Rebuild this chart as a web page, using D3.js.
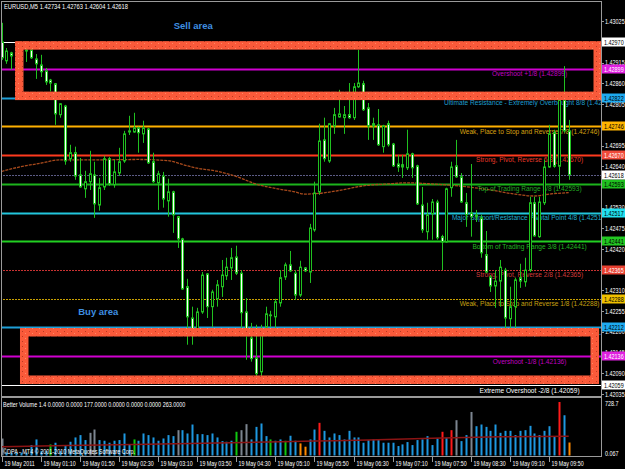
<!DOCTYPE html>
<html>
<head>
<meta charset="utf-8">
<script src="https://cdnjs.cloudflare.com/ajax/libs/d3/7.8.5/d3.min.js"></script>
<style>
  body { margin: 0; background: #000; }
  svg { display: block; }
  .ax { font-family: 'Liberation Sans', Arial, sans-serif; font-size: 6.8px; fill: #fff; }
  .mm { font-family: 'Liberation Sans', Arial, sans-serif; font-size: 6.6px; }
  .area { font-family: 'Liberation Sans', Arial, sans-serif; font-size: 9.5px; font-weight: bold; fill: #3f8fe0; }
</style>
</head>
<body>
<div id="chart"></div>
<script>
// EURUSD M5, 19 May 2011, bars 00:30 .. 10:10
var open = [1.42970, 1.42920, 1.42941, 1.42933, 1.42944, 1.42949, 1.42949, 1.42925, 1.42909, 1.42893,
    1.42869, 1.42859, 1.42777, 1.42800, 1.42660, 1.42676, 1.42617, 1.42580, 1.42599, 1.42617,
    1.42537, 1.42585, 1.42660, 1.42591, 1.42622, 1.42654, 1.42731, 1.42731, 1.42742, 1.42726,
    1.42739, 1.42652, 1.42596, 1.42614, 1.42548, 1.42572, 1.42506, 1.42447, 1.42320, 1.42237,
    1.42205, 1.42253, 1.42354, 1.42267, 1.42288, 1.42320, 1.42349, 1.42370, 1.42399, 1.42356,
    1.42253, 1.42184, 1.42131, 1.42094, 1.42213, 1.42245, 1.42240, 1.42277, 1.42346, 1.42378,
    1.42356, 1.42298, 1.42370, 1.42359, 1.42471, 1.42572, 1.42710, 1.42654, 1.42747, 1.42771,
    1.42769, 1.42777, 1.42769, 1.42851, 1.42859, 1.42795, 1.42753, 1.42750, 1.42692, 1.42753,
    1.42699, 1.42646, 1.42644, 1.42636, 1.42673, 1.42641, 1.42537, 1.42466, 1.42514, 1.42545,
    1.42453, 1.42439, 1.42583, 1.42641, 1.42612, 1.42543, 1.42516, 1.42506, 1.42503, 1.42405,
    1.42346, 1.42322, 1.42335, 1.42364, 1.42235, 1.42267, 1.42344, 1.42333, 1.42364, 1.42543,
    1.42453, 1.42543, 1.42638, 1.42729, 1.42640, 1.42816, 1.42734];
var high = [1.43021, 1.42954, 1.42944, 1.42949, 1.42954, 1.42951, 1.42951, 1.42938, 1.42936, 1.42901,
    1.42872, 1.42861, 1.42808, 1.42803, 1.42697, 1.42692, 1.42662, 1.42628, 1.42681, 1.42652,
    1.42609, 1.42668, 1.42665, 1.42657, 1.42689, 1.42734, 1.42774, 1.42782, 1.42745, 1.42761,
    1.42742, 1.42676, 1.42628, 1.42625, 1.42607, 1.42575, 1.42508, 1.42450, 1.42341, 1.42267,
    1.42264, 1.42359, 1.42356, 1.42312, 1.42338, 1.42391, 1.42397, 1.42423, 1.42429, 1.42364,
    1.42290, 1.42224, 1.42219, 1.42219, 1.42267, 1.42256, 1.42288, 1.42364, 1.42384, 1.42415,
    1.42364, 1.42389, 1.42372, 1.42487, 1.42599, 1.42753, 1.42769, 1.42755, 1.42795, 1.42843,
    1.42800, 1.42861, 1.42861, 1.42949, 1.42867, 1.42808, 1.42769, 1.42792, 1.42750, 1.42761,
    1.42702, 1.42670, 1.42670, 1.42737, 1.42676, 1.42644, 1.42585, 1.42543, 1.42553, 1.42551,
    1.42458, 1.42583, 1.42652, 1.42710, 1.42622, 1.42569, 1.42646, 1.42524, 1.42511, 1.42468,
    1.42351, 1.42364, 1.42391, 1.42370, 1.42320, 1.42344, 1.42381, 1.42397, 1.42559, 1.42559,
    1.42559, 1.42657, 1.42750, 1.42737, 1.42829, 1.42906, 1.42763];
var low = [1.42922, 1.42912, 1.42896, 1.42922, 1.42933, 1.42917, 1.42925, 1.42872, 1.42877, 1.42856,
    1.42838, 1.42750, 1.42769, 1.42644, 1.42652, 1.42604, 1.42583, 1.42556, 1.42577, 1.42503,
    1.42522, 1.42577, 1.42588, 1.42583, 1.42614, 1.42649, 1.42723, 1.42729, 1.42676, 1.42702,
    1.42646, 1.42596, 1.42524, 1.42530, 1.42506, 1.42463, 1.42423, 1.42312, 1.42166, 1.42166,
    1.42192, 1.42248, 1.42237, 1.42213, 1.42267, 1.42293, 1.42338, 1.42338, 1.42351, 1.42211,
    1.42126, 1.42121, 1.42078, 1.42083, 1.42200, 1.42213, 1.42211, 1.42267, 1.42338, 1.42359,
    1.42285, 1.42293, 1.42359, 1.42330, 1.42466, 1.42564, 1.42652, 1.42649, 1.42726, 1.42769,
    1.42726, 1.42766, 1.42763, 1.42848, 1.42787, 1.42710, 1.42710, 1.42694, 1.42676, 1.42692,
    1.42638, 1.42625, 1.42609, 1.42630, 1.42609, 1.42537, 1.42463, 1.42445, 1.42445, 1.42445,
    1.42364, 1.42437, 1.42559, 1.42609, 1.42543, 1.42479, 1.42453, 1.42492, 1.42397, 1.42356,
    1.42306, 1.42264, 1.42267, 1.42205, 1.42211, 1.42211, 1.42317, 1.42320, 1.42359, 1.42453,
    1.42450, 1.42537, 1.42636, 1.42636, 1.42580, 1.42729, 1.42604];
var close = [1.42928, 1.42946, 1.42933, 1.42944, 1.42949, 1.42946, 1.42928, 1.42912, 1.42891, 1.42864,
    1.42861, 1.42779, 1.42806, 1.42654, 1.42676, 1.42614, 1.42585, 1.42599, 1.42620, 1.42540,
    1.42583, 1.42660, 1.42593, 1.42625, 1.42652, 1.42726, 1.42734, 1.42742, 1.42729, 1.42742,
    1.42649, 1.42599, 1.42620, 1.42553, 1.42572, 1.42511, 1.42447, 1.42314, 1.42240, 1.42200,
    1.42253, 1.42351, 1.42267, 1.42306, 1.42325, 1.42351, 1.42372, 1.42397, 1.42356, 1.42251,
    1.42192, 1.42129, 1.42089, 1.42205, 1.42248, 1.42243, 1.42280, 1.42344, 1.42378, 1.42362,
    1.42298, 1.42372, 1.42362, 1.42476, 1.42569, 1.42707, 1.42660, 1.42753, 1.42777, 1.42779,
    1.42777, 1.42769, 1.42851, 1.42861, 1.42790, 1.42747, 1.42747, 1.42697, 1.42747, 1.42697,
    1.42641, 1.42638, 1.42638, 1.42673, 1.42636, 1.42540, 1.42471, 1.42511, 1.42545, 1.42450,
    1.42439, 1.42580, 1.42638, 1.42612, 1.42545, 1.42511, 1.42506, 1.42511, 1.42410, 1.42359,
    1.42322, 1.42335, 1.42372, 1.42237, 1.42267, 1.42338, 1.42335, 1.42364, 1.42543, 1.42455,
    1.42545, 1.42638, 1.42726, 1.42640, 1.42816, 1.42734, 1.42618];

// moving average on price (sampled bars)
var maBars = [0, 4, 8, 12, 20, 28, 34, 36, 38, 40, 44, 48, 52, 56, 60, 62, 65, 70, 74, 79, 83, 88, 94, 100, 105, 109, 112, 116];
var maVals = [1.42626, 1.42639, 1.42648, 1.42657, 1.42657, 1.42658, 1.42655, 1.42649, 1.42641, 1.42635,
    1.42627, 1.42613, 1.42593, 1.42581, 1.42572, 1.42566, 1.42568, 1.42578, 1.42588, 1.42593,
    1.42596, 1.42593, 1.42587, 1.42577, 1.42566, 1.42561, 1.42566, 1.42570];

// Better Volume (b = normal, r = climax, g = churn, w = climax churn, o = low)
var volume = [231, 40, 40, 40, 40, 40, 142, 219, 60, 60,
    151, 174, 60, 142, 187, 246, 278, 210, 309, 354,
    210, 201, 174, 201, 210, 300, 151, 219, 201, 300,
    278, 246, 201, 232, 278, 264, 345, 345, 300, 422,
    291, 291, 278, 300, 246, 196, 187, 201, 323, 345,
    427, 219, 390, 436, 264, 219, 201, 219, 201, 269,
    201, 165, 120, 219, 354, 445, 336, 246, 300, 278,
    219, 336, 246, 246, 174, 210, 219, 210, 174, 174,
    174, 129, 151, 183, 142, 210, 219, 264, 142, 232,
    323, 241, 345, 481, 196, 278, 593, 399, 422, 390,
    336, 422, 309, 336, 336, 278, 336, 345, 404, 300,
    278, 336, 399, 264, 728.7, 548, 177];
var volType = "wbbbbbbbbbgbbbbbbbwwbbbbbbbgbbbbbbbbwbbbbbbbbbbbgwwbbbbgbbgbboobbrbbbbbbbbbbbbbbbbbbbbbbbbrbrwbbwbbbbbbbbbbbbbbbbbrbo".split("");
var volMaBars = [0, 27, 47, 64, 75, 90, 102, 116];
var volMaVals = [120, 151, 174, 196, 210, 240, 255, 263];

// Murrey Math levels
var mmLevels = [1.42970, 1.42899, 1.42822, 1.42746, 1.42670, 1.42593, 1.42517, 1.42441, 1.42365, 1.42288, 1.42212, 1.42136, 1.42059];
var mmNames = ["Extreme Overshoot +2/8", "Overshoot +1/8", "Ultimate Resistance - Extremely Overbought 8/8",
    "Weak, Place to Stop and Reverse 7/8", "Strong, Pivot, Reverse 6/8", "Top of Trading Range 5/8",
    "Major Support/Resistance Pivotal Point 4/8", "Bottom of Trading Range 3/8", "Strong, Pivot, Reverse 2/8",
    "Weak, Place to Stop and Reverse 1/8", "Ultimate Support - Extremely Oversold 0/8", "Overshoot -1/8",
    "Extreme Overshoot -2/8"];

var priceTicks = [1.43025, 1.42970, 1.42915, 1.42860, 1.42805, 1.42750, 1.42695, 1.42640, 1.42585, 1.42530,
    1.42475, 1.42420, 1.42365, 1.42310, 1.42255, 1.42200, 1.42145, 1.42090, 1.42035];
var timeTickBars = [0, 8, 16, 24, 32, 40, 48, 56, 64, 72, 80, 88, 96, 104, 112];
var timeTickLabels = ["19 May 2011", "19 May 01:10", "19 May 01:50", "19 May 02:30", "19 May 03:10",
    "19 May 03:50", "19 May 04:30", "19 May 05:10", "19 May 05:50", "19 May 06:30", "19 May 07:10",
    "19 May 07:50", "19 May 08:30", "19 May 09:10", "19 May 09:50"];

var lastPrice = 1.42618;
var volMax = 728.7;

// rectangles drawn on the chart (bar index / price)
var sellBox = { b0: 3.63, b1: 121.94, p0: 1.42961, p1: 1.42827, label: "Sell area", lb: 39.2, lp: 1.43005 };
var buyBox = { b0: 4.65, b1: 121.33, p0: 1.42199, p1: 1.42073, label: "Buy area", lb: 19.8, lp: 1.42245 };

// ---------------------------------------------------------------
var W = 625, H = 469;
var mmColors = ["#ffffff", "#d000d0", "#1e9fd8", "#ffb000", "#ff3a1e", "#1cb41c", "#22c6dc", "#22d022", "#c83232", "#c8a000", "#1e9fd8", "#d000d0", "#ffffff"];
var mmText = ["#ffffff", "#c000c0", "#1f9fcf", "#d8a010", "#e83a2a", "#22a822", "#20b0d0", "#22b822", "#d03a3a", "#c8a010", "#1e9fd8", "#c000c0", "#ffffff"];
var mmBox = ["#ffffff", "#e020e0", "#1eaaf0", "#ffb400", "#f04a3a", "#1fc01f", "#22e0f0", "#22c822", "#e84030", "#f0c000", "#1eaaf0", "#e020e0", "#ffffff"];
var mmBoxText = ["#000", "#fff", "#000", "#000", "#fff", "#000", "#000", "#000", "#fff", "#000", "#000", "#fff", "#000"];
var volColors = { b: "#1e98e0", r: "#ff1a1a", g: "#10c810", w: "#7c8590", o: "#ff8a00" };
var green = "#20c020";

// narrow the MT4-style labels
function squeeze(sel, f) {
    sel.each(function () {
        var w = this.getComputedTextLength();
        d3.select(this).attr("textLength", w * f).attr("lengthAdjust", "spacingAndGlyphs");
    });
}

var svg = d3.select("#chart").append("svg")
    .attr("width", W)
    .attr("height", H)
    .style("background", "#000");

var defs = svg.append("defs");
var pat = defs.append("pattern").attr("id", "boxTex")
    .attr("patternUnits", "userSpaceOnUse").attr("width", 7).attr("height", 5);
pat.append("rect").attr("width", 7).attr("height", 5).attr("fill", "#fa5a3a");
pat.append("rect").attr("x", 1).attr("y", 1).attr("width", 1).attr("height", 1).attr("fill", "#b83a22");
pat.append("rect").attr("x", 4).attr("y", 3).attr("width", 1).attr("height", 1).attr("fill", "#ff8a66");

var x = d3.scaleLinear().domain([0, 116]).range([1.5, 568.7]);
var y = d3.scaleLinear().domain([1.42059, 1.42970]).range([385, 42]);
var yv = d3.scaleLinear().domain([0, volMax]).range([455.5, 402]);

defs.append("clipPath").attr("id", "clipMain")
    .append("rect").attr("x", 2).attr("y", 2).attr("width", 599).attr("height", 394);
defs.append("clipPath").attr("id", "clipVol")
    .append("rect").attr("x", 2).attr("y", 398).attr("width", 599).attr("height", 58);

var main = svg.append("g").attr("clip-path", "url(#clipMain)");

// Murrey lines
main.selectAll(".mml")
    .data(mmLevels)
    .enter()
    .append("line")
    .attr("x1", 0)
    .attr("x2", 601)
    .attr("y1", function (d) { return Math.round(y(d)) + 0.5; })
    .attr("y2", function (d) { return Math.round(y(d)) + 0.5; })
    .attr("stroke", function (d, i) { return mmColors[i]; })
    .attr("stroke-width", function (d, i) { return (i == 0 || i == 12 || i == 8 || i == 9) ? 1 : 2; })
    .attr("stroke-dasharray", function (d, i) { return (i == 8 || i == 9) ? "2,1" : null; });

// last price line
main.append("line")
    .attr("x1", 0).attr("x2", 601)
    .attr("y1", Math.round(y(lastPrice)) + 0.5)
    .attr("y2", Math.round(y(lastPrice)) + 0.5)
    .attr("stroke", "#5c5c86")
    .attr("stroke-dasharray", "2,1");

// moving average
var maLine = d3.line()
    .x(function (d, i) { return x(maBars[i]); })
    .y(function (d) { return y(d); })
    .curve(d3.curveMonotoneX);
main.append("path")
    .datum(maVals)
    .attr("d", maLine)
    .attr("fill", "none")
    .attr("stroke", "#a84a1c")
    .attr("stroke-width", 1.3)
    .attr("stroke-dasharray", "3,1");

// level labels
main.selectAll(".mmt")
    .data(mmLevels)
    .enter()
    .filter(function (d, i) { return i > 0; })
    .append("text")
    .attr("class", "mm")
    .attr("x", x(108))
    .attr("y", function (d) { return y(d) + 7.5; })
    .attr("text-anchor", "middle")
    .attr("fill", function (d, i) { return mmText[i + 1]; })
    .text(function (d, i) { return mmNames[i + 1] + " (" + d.toFixed(5) + ")"; });

// candles
var bars = d3.range(open.length);
main.selectAll(".wick")
    .data(bars)
    .enter()
    .append("line")
    .attr("x1", function (i) { return Math.round(x(i)) + 0.5; })
    .attr("x2", function (i) { return Math.round(x(i)) + 0.5; })
    .attr("y1", function (i) { return y(high[i]); })
    .attr("y2", function (i) { return y(low[i]); })
    .attr("stroke", green)
    .attr("stroke-width", 1);

main.selectAll(".body")
    .data(bars)
    .enter()
    .append("rect")
    .attr("x", function (i) { return Math.round(x(i)) - 0.5; })
    .attr("width", 2)
    .attr("y", function (i) { return y(Math.max(open[i], close[i])); })
    .attr("height", function (i) { return Math.max(0.6, Math.abs(y(open[i]) - y(close[i]))); })
    .attr("fill", function (i) { return close[i] < open[i] ? "#ffffff" : "#000000"; })
    .attr("stroke", green)
    .attr("stroke-width", 1);

// area rectangles
[sellBox, buyBox].forEach(function (b) {
    main.append("rect")
        .attr("x", x(b.b0))
        .attr("y", y(b.p0))
        .attr("width", x(b.b1) - x(b.b0))
        .attr("height", y(b.p1) - y(b.p0))
        .attr("fill", "none")
        .attr("stroke", "url(#boxTex)")
        .attr("stroke-width", 8.5);
    main.append("text")
        .attr("class", "area")
        .attr("x", x(b.lb))
        .attr("y", y(b.lp))
        .attr("text-anchor", "middle")
        .text(b.label);
});

// title
svg.append("text")
    .attr("class", "ax")
    .attr("x", 4)
    .attr("y", 9)
    .text("EURUSD,M5  1.42734 1.42763 1.42604 1.42618")
    .call(squeeze, 0.85);

// frame
svg.append("rect").attr("x", 1.5).attr("y", 1.5).attr("width", 600).attr("height", 395)
    .attr("fill", "none").attr("stroke", "#9a9a9a");
svg.append("rect").attr("x", 1.5).attr("y", 397.5).attr("width", 600).attr("height", 59)
    .attr("fill", "none").attr("stroke", "#9a9a9a");

// price axis
svg.selectAll(".ptick")
    .data(priceTicks.filter(function (t) {
        return mmLevels.concat([lastPrice]).every(function (l) { return Math.abs(y(l) - y(t)) > 3.2; });
    }))
    .enter()
    .append("text")
    .attr("class", "ax")
    .attr("x", 605)
    .attr("y", function (d) { return y(d) + 2.5; })
    .text(function (d) { return d.toFixed(5); })
    .call(squeeze, 0.8);
svg.selectAll(".ptk")
    .data(priceTicks)
    .enter()
    .append("line")
    .attr("x1", 601).attr("x2", 604)
    .attr("y1", function (d) { return Math.round(y(d)) + 0.5; })
    .attr("y2", function (d) { return Math.round(y(d)) + 0.5; })
    .attr("stroke", "#9a9a9a");

var priceBoxes = mmLevels.map(function (d, i) { return { p: d, bg: mmBox[i], fg: mmBoxText[i] }; })
    .concat([{ p: lastPrice, bg: "#ffffff", fg: "#000" }]);
var pb = svg.selectAll(".pbox")
    .data(priceBoxes)
    .enter()
    .append("g")
    .attr("transform", function (d) { return "translate(602," + Math.round(y(d.p)) + ")"; });
pb.append("rect")
    .attr("x", 0).attr("y", -4.5).attr("width", 23).attr("height", 9)
    .attr("fill", function (d) { return d.bg; });
pb.append("text")
    .attr("class", "ax")
    .attr("x", 2)
    .attr("y", 2.5)
    .style("fill", function (d) { return d.fg; })
    .text(function (d) { return d.p.toFixed(5); })
    .call(squeeze, 0.8);

// volume panel
var vol = svg.append("g").attr("clip-path", "url(#clipVol)");
vol.selectAll(".vbar")
    .data(bars)
    .enter()
    .append("rect")
    .attr("x", function (i) { return Math.round(x(i)) - 0.5; })
    .attr("width", 2)
    .attr("y", function (i) { return yv(volume[i]); })
    .attr("height", function (i) { return yv(0) - yv(volume[i]); })
    .attr("fill", function (i) { return volColors[volType[i]]; });

var volMaLine = d3.line()
    .x(function (d, i) { return x(volMaBars[i]); })
    .y(function (d) { return yv(d); })
    .curve(d3.curveMonotoneX);
vol.append("path")
    .datum(volMaVals)
    .attr("d", volMaLine)
    .attr("fill", "none")
    .attr("stroke", "#8c1414")
    .attr("stroke-width", 1.5);

svg.append("text").attr("class", "ax").attr("x", 3).attr("y", 407)
    .text("Better Volume 1.4 0.0000 0.0000 177.0000 0.0000 0.0000 0.0000 263.0000")
    .call(squeeze, 0.8);
svg.append("text").attr("class", "ax").attr("x", 3).attr("y", 454)
    .text("©DPA - MT4 © 2001-2010 MetaQuotes Software Corp.")
    .call(squeeze, 0.8);
svg.append("text").attr("class", "ax").attr("x", 605).attr("y", 406).text(volMax.toFixed(1)).call(squeeze, 0.8);
svg.append("text").attr("class", "ax").attr("x", 605).attr("y", 456).text("0.067").call(squeeze, 0.8);

// time axis
var tt = svg.selectAll(".tt")
    .data(timeTickBars)
    .enter()
    .append("g")
    .attr("transform", function (d) { return "translate(" + (Math.round(x(d)) + 0.5) + ",0)"; });
tt.append("line")
    .attr("y1", 457).attr("y2", 462)
    .attr("stroke", "#9a9a9a");
tt.append("text")
    .attr("class", "ax")
    .attr("x", 2)
    .attr("y", 465.5)
    .text(function (d, i) { return timeTickLabels[i]; })
    .call(squeeze, 0.78);
</script>
</body>
</html>
